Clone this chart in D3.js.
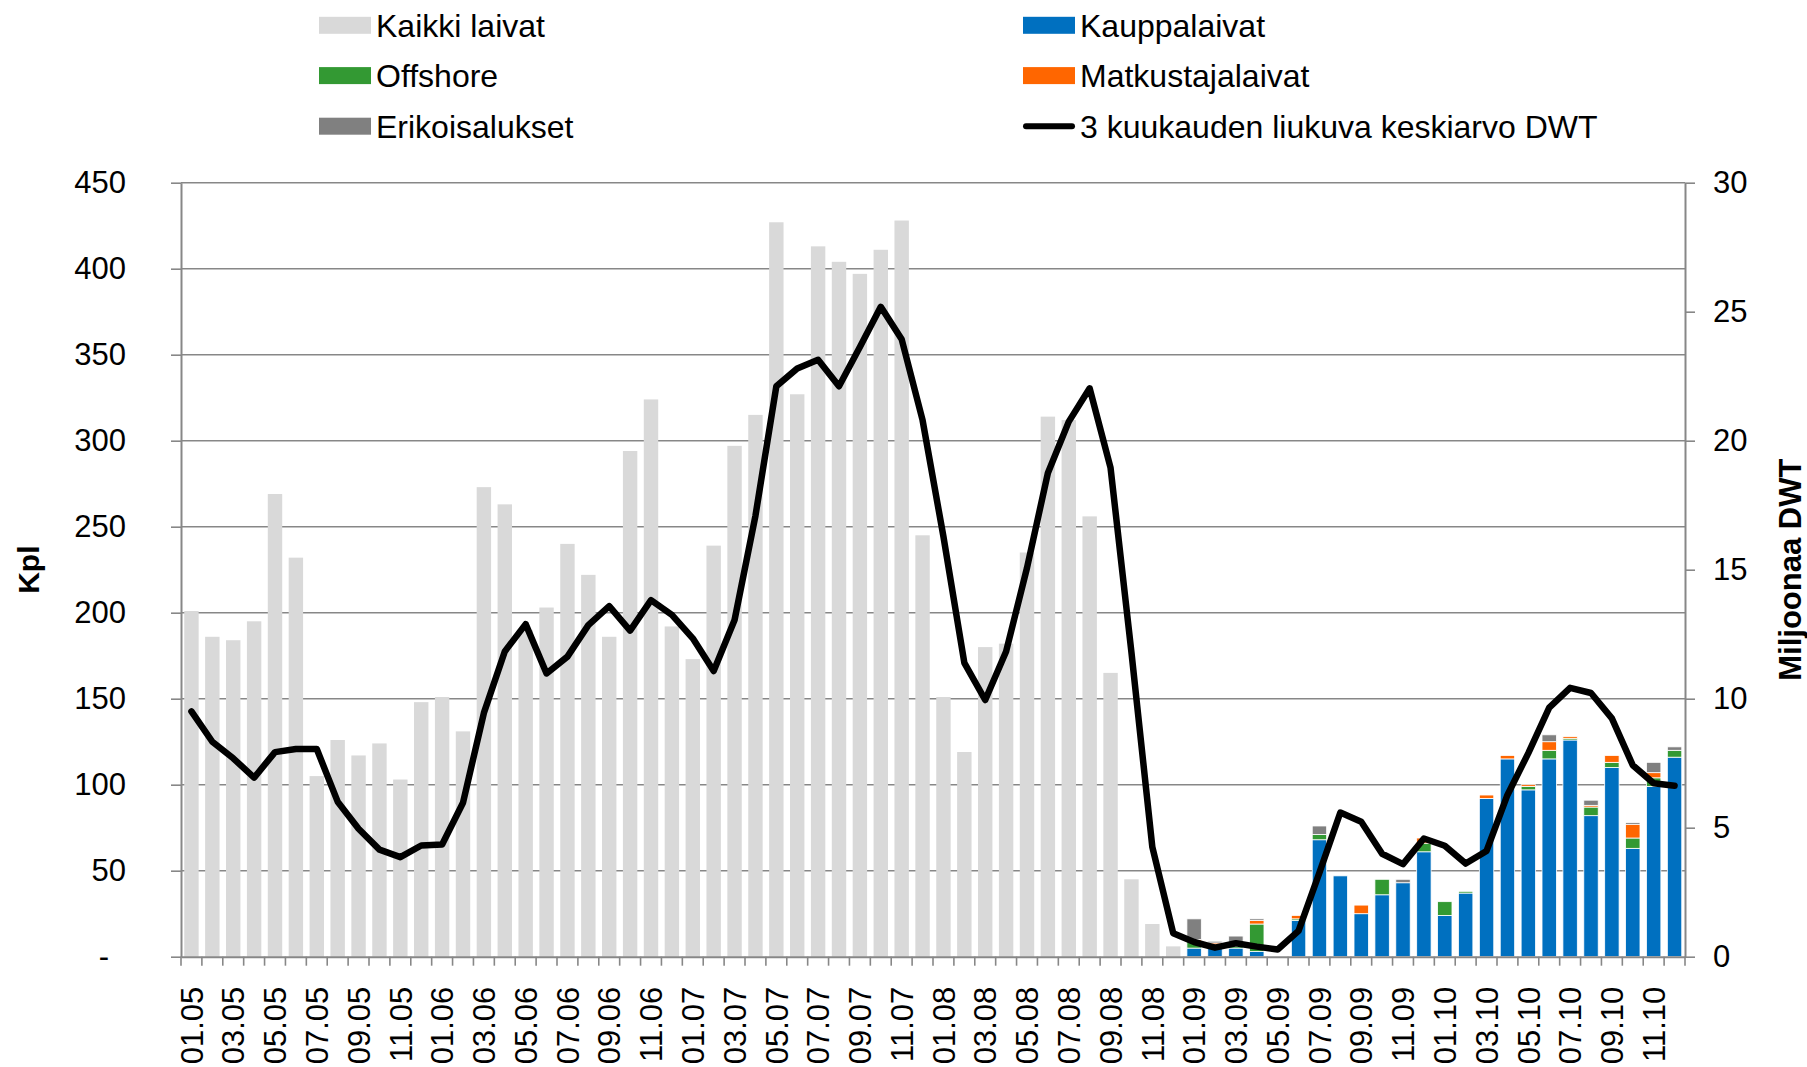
<html lang="fi"><head>
<meta http-equiv="Content-Type" content="text/html; charset=UTF-8">
<title>Laivatilaukset</title>
<script type="text/javascript" src="https://cdn.jsdelivr.net/npm/d3@7"></script>
<style type="text/css">
body { margin: 0; background: #fff; }
text { font-family: "Liberation Sans", Arial, sans-serif; fill: #000; }
</style>
</head>
<body>
<div id="chart"></div>
<script type="text/javascript">

// months 01.05 ... 12.10
var years = ["05", "06", "07", "08", "09", "10"];
var monthNums = ["01", "02", "03", "04", "05", "06", "07", "08", "09", "10", "11", "12"];

// all ships, 2005-2008 (kpl)
var kaikkiLaivat = [
  201, 186, 184, 195, 269, 232, 105, 126, 117, 124, 103, 148,
  151, 131, 273, 263, 190, 203, 240, 222, 186, 294, 324, 192,
  173, 239, 297, 315, 427, 327, 413, 404, 397, 411, 428, 245,
  151, 119, 180, 182, 235, 314, 312, 256, 165, 45, 19, 6
];

// 2009-2010 by type (kpl)
var kauppalaivat = [5, 6, 5, 3, 0, 21, 68, 47, 25, 36, 43, 61,
  24, 37, 92, 115, 97, 115, 126, 82, 110, 63, 99, 116];
var offshore = [4, 1, 1, 16, 0, 1, 3, 0, 0, 9, 0, 5,
  8, 1, 0, 0, 2, 5, 1, 5, 3, 6, 5, 4];
var matkustajalaivat = [1, 1, 2, 2, 0, 2, 0, 0, 5, 0, 0, 3,
  0, 0, 2, 2, 1, 5, 1, 1, 4, 8, 3, 0];
var erikoisalukset = [12, 1, 4, 1, 0, 0, 5, 0, 0, 0, 2, 0,
  0, 0, 0, 0, 0, 4, 0, 3, 0, 1, 6, 2];

// 3 month moving average, million DWT
var dwt = [
  9.51, 8.33, 7.69, 6.94, 7.93, 8.05, 8.05, 6.01, 4.96, 4.15, 3.86, 4.31,
  4.35, 5.97, 9.45, 11.83, 12.89, 10.98, 11.63, 12.85, 13.59, 12.64, 13.82, 13.25,
  12.34, 11.07, 13.05, 17.09, 22.11, 22.80, 23.14, 22.11, 23.63, 25.19, 23.93, 20.80,
  16.28, 11.39, 9.95, 11.83, 15.07, 18.75, 20.74, 22.03, 18.95, 11.8, 4.25, 0.91,
  0.57, 0.35, 0.52, 0.39, 0.28, 1.0, 3.26, 5.59, 5.23, 3.99, 3.59, 4.58,
  4.30, 3.61, 4.10, 6.27, 7.89, 9.65, 10.42, 10.22, 9.24, 7.42, 6.72, 6.63
];

var leftTicks = [0, 50, 100, 150, 200, 250, 300, 350, 400, 450];
var rightTicks = [0, 5, 10, 15, 20, 25, 30];

var months = [];
years.forEach(function (y) {
  monthNums.forEach(function (m) { months.push(m + "." + y); });
});

var width = 1807;
var height = 1067;
var plotLeft = 181, plotRight = 1685, plotTop = 182.7, plotBottom = 956.7;
var gridColor = "#878787";

var svg = d3.select("#chart").append("svg")
        .attr("width", width)
        .attr("height", height);

var x = d3.scaleBand()
        .domain(months)
        .range([plotLeft, plotRight])
        .paddingInner(0.31)
        .paddingOuter(0.155);

var yL = d3.scaleLinear().domain([0, 450]).range([plotBottom, plotTop]);
var yR = d3.scaleLinear().domain([0, 30]).range([plotBottom, plotTop]);

// gridlines
svg.append("g").selectAll("line")
        .data(leftTicks.filter(function (d) { return d > 0; }))
        .enter().append("line")
        .attr("x1", plotLeft)
        .attr("x2", plotRight)
        .attr("y1", function (d) { return yL(d); })
        .attr("y2", function (d) { return yL(d); })
        .attr("stroke", gridColor)
        .attr("stroke-width", 1.6);

// grey bars 2005-2008
svg.append("g").selectAll("rect")
        .data(kaikkiLaivat)
        .enter().append("rect")
        .attr("x", function (d, i) { return x(months[i]); })
        .attr("width", x.bandwidth())
        .attr("y", function (d) { return yL(d); })
        .attr("height", function (d) { return yL(0) - yL(d); })
        .attr("fill", "#d9d9d9");

// stacked bars 2009-2010
var keys = ["kauppa", "offshore", "matkustaja", "erikois"];
var colors = {kauppa: "#0070c0", offshore: "#339933", matkustaja: "#ff6600", erikois: "#808080"};
var stackRows = kauppalaivat.map(function (d, i) {
  return {
    month: months[48 + i],
    kauppa: d,
    offshore: offshore[i],
    matkustaja: matkustajalaivat[i],
    erikois: erikoisalukset[i]
  };
});
var stacked = d3.stack().keys(keys)(stackRows);

svg.append("g").selectAll("g")
        .data(stacked)
        .enter().append("g")
        .attr("fill", function (s) { return colors[s.key]; })
        .selectAll("rect")
        .data(function (s) { return s.filter(function (p) { return p[1] > p[0]; }); })
        .enter().append("rect")
        .attr("x", function (p) { return x(p.data.month); })
        .attr("width", x.bandwidth())
        .attr("y", function (p) { return yL(p[1]); })
        .attr("height", function (p) { return yL(p[0]) - yL(p[1]); })
        .attr("stroke", "#ffffff")
        .attr("stroke-width", 0.8);

// axes
var leftAxis = svg.append("g")
        .attr("transform", "translate(" + plotLeft + ",0)")
        .call(d3.axisLeft(yL).tickValues(leftTicks).tickSize(10).tickSizeOuter(0).tickPadding(45)
                .tickFormat(function (d) { return d === 0 ? "-" : d; }));
leftAxis.selectAll("text").filter(function (d) { return d === 0; }).attr("x", -72);

var rightAxis = svg.append("g")
        .attr("transform", "translate(" + plotRight + ",0)")
        .call(d3.axisRight(yR).tickValues(rightTicks).tickSize(10).tickSizeOuter(0).tickPadding(18));

var bottomAxis = svg.append("g")
        .attr("transform", "translate(0," + plotBottom + ")")
        .call(d3.axisBottom(x).tickSize(0).tickSizeOuter(0)
                .tickValues(months.filter(function (d, i) { return i % 2 === 0; })));
bottomAxis.selectAll("text")
        .attr("transform", "rotate(-90)")
        .attr("x", -30)
        .attr("y", 0)
        .attr("dy", "0.36em")
        .attr("text-anchor", "end");

// category boundary ticks
svg.append("g").selectAll("line")
        .data(d3.range(months.length + 1))
        .enter().append("line")
        .attr("x1", function (i) { return plotLeft + i * x.step(); })
        .attr("x2", function (i) { return plotLeft + i * x.step(); })
        .attr("y1", plotBottom)
        .attr("y2", plotBottom + 9)
        .attr("stroke", gridColor)
        .attr("stroke-width", 1.6);

[leftAxis, rightAxis, bottomAxis].forEach(function (a) {
  a.attr("font-family", null).attr("font-size", null);
  a.selectAll("text").attr("font-size", "31px").attr("fill", "#000");
  a.selectAll("line").attr("stroke", gridColor).attr("stroke-width", 1.6);
  a.select(".domain").attr("stroke", gridColor).attr("stroke-width", 2);
});

// DWT line
var line = d3.line()
        .x(function (d, i) { return x(months[i]) + x.bandwidth() / 2; })
        .y(function (d) { return yR(d); });

svg.append("path")
        .datum(dwt)
        .attr("d", line)
        .attr("fill", "none")
        .attr("stroke", "#000")
        .attr("stroke-width", 6.5)
        .attr("stroke-linejoin", "round")
        .attr("stroke-linecap", "round");

// axis titles
svg.append("text")
        .attr("transform", "translate(28," + (plotTop + plotBottom) / 2 + ") rotate(-90)")
        .attr("text-anchor", "middle")
        .attr("dy", "0.36em")
        .attr("font-size", "30px")
        .attr("font-weight", "bold")
        .text("Kpl");

svg.append("text")
        .attr("transform", "translate(1790," + (plotTop + plotBottom) / 2 + ") rotate(-90)")
        .attr("text-anchor", "middle")
        .attr("dy", "0.36em")
        .attr("font-size", "31px")
        .attr("font-weight", "bold")
        .text("Miljoonaa DWT");

// legend
var legendItems = [
  {name: "Kaikki laivat", color: "#d9d9d9", col: 0, row: 0},
  {name: "Kauppalaivat", color: "#0070c0", col: 1, row: 0},
  {name: "Offshore", color: "#339933", col: 0, row: 1},
  {name: "Matkustajalaivat", color: "#ff6600", col: 1, row: 1},
  {name: "Erikoisalukset", color: "#808080", col: 0, row: 2},
  {name: "3 kuukauden liukuva keskiarvo DWT", color: "#000", col: 1, row: 2, isLine: true}
];
var colX = [319, 1023];
var rowY = [25.3, 75.6, 126.2];

var legend = svg.append("g").selectAll("g")
        .data(legendItems)
        .enter().append("g")
        .attr("transform", function (d) { return "translate(" + colX[d.col] + "," + rowY[d.row] + ")"; });

legend.filter(function (d) { return !d.isLine; }).append("rect")
        .attr("x", 0)
        .attr("y", -8.5)
        .attr("width", 52)
        .attr("height", 17)
        .attr("fill", function (d) { return d.color; });

legend.filter(function (d) { return d.isLine; }).append("line")
        .attr("x1", 3)
        .attr("x2", 49)
        .attr("y1", 0)
        .attr("y2", 0)
        .attr("stroke", "#000")
        .attr("stroke-width", 6)
        .attr("stroke-linecap", "round");

legend.append("text")
        .attr("x", 57)
        .attr("dy", "0.36em")
        .attr("font-size", "32px")
        .text(function (d) { return d.name; });

</script>
</body></html>
